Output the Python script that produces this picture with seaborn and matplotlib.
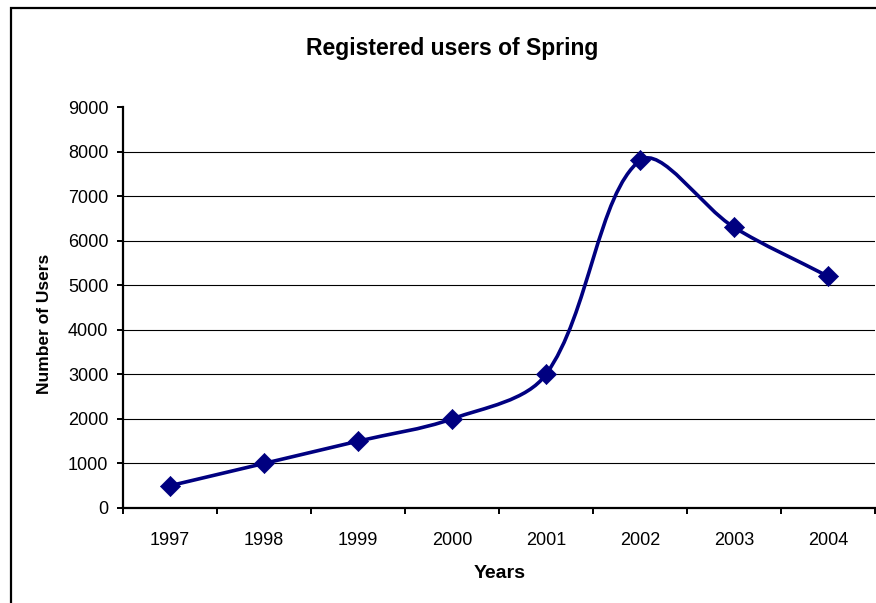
import numpy as np
import pandas as pd
import matplotlib
matplotlib.use("Agg")
import matplotlib.pyplot as plt
from matplotlib.path import Path
from matplotlib.patches import PathPatch, Rectangle
import seaborn as sns

years = ["1997", "1998", "1999", "2000", "2001", "2002", "2003", "2004"]
users = [500, 1000, 1500, 2000, 3000, 7800, 6300, 5200]
y_ticks = [0, 1000, 2000, 3000, 4000, 5000, 6000, 7000, 8000, 9000]

df = pd.DataFrame({"year": years, "users": users})
df["pos"] = np.arange(len(years))

sns.set_style("white")
plt.rcParams["font.family"] = ["Liberation Sans", "DejaVu Sans"]
plt.rcParams["text.color"] = "black"
plt.rcParams["axes.labelcolor"] = "black"
plt.rcParams["xtick.color"] = "black"
plt.rcParams["ytick.color"] = "black"

navy = "#000080"
fig = plt.figure(figsize=(8.76, 6.03), dpi=100)
ax = fig.add_axes([123 / 876, 95 / 603, 752 / 876, 401 / 603])

# outer chart frame (only left/top edges are inside the picture)
fig.patches.append(Rectangle((11 / 876, -0.05), 1.1, 0.05 + (603 - 8) / 603,
                             transform=fig.transFigure, fill=False,
                             edgecolor="black", linewidth=1.6))

ax.set_xlim(-0.5, len(years) - 0.5)
ax.set_ylim(0, 9000)

# Excel-like smoothed line: bezier segments, tangents weighted by
# segment lengths on screen
pts = np.column_stack([df["pos"].to_numpy(float), df["users"].to_numpy(float)])
scr = ax.transData.transform(pts)
n = len(pts)
k = 1 / 3
verts = [tuple(pts[0])]
codes = [Path.MOVETO]
for i in range(n - 1):
    i0, i3 = max(i - 1, 0), min(i + 2, n - 1)
    d01 = np.linalg.norm(scr[i] - scr[i0])
    d12 = np.linalg.norm(scr[i + 1] - scr[i])
    d23 = np.linalg.norm(scr[i3] - scr[i + 1])
    c1 = pts[i] + (pts[i + 1] - pts[i0]) * k * d12 / (d01 + d12)
    c2 = pts[i + 1] - (pts[i3] - pts[i]) * k * d12 / (d12 + d23)
    verts += [tuple(c1), tuple(c2), tuple(pts[i + 1])]
    codes += [Path.CURVE4] * 3
ax.add_patch(PathPatch(Path(verts, codes), fill=False, edgecolor=navy,
                       linewidth=2.6, zorder=3, capstyle="round",
                       joinstyle="round"))

sns.scatterplot(data=df, x="pos", y="users", marker="D", s=105, color=navy,
                edgecolor=navy, linewidth=0.5, zorder=4, ax=ax, legend=False)

ax.set_yticks(y_ticks)
ax.set_xticks(df["pos"])
ax.set_xticklabels(years)
ax.set_xticks(np.arange(-0.5, len(years)), minor=True)

for t in y_ticks[1:-1]:
    ax.axhline(t, color="black", linewidth=0.8, zorder=1)

for s in ["top", "right"]:
    ax.spines[s].set_visible(False)
for s in ["left", "bottom"]:
    ax.spines[s].set_color("black")
    ax.spines[s].set_linewidth(1.6)

ax.tick_params(axis="y", which="major", direction="out", length=4.5, width=1.4,
               labelsize=13, pad=6, left=True)
ax.tick_params(axis="x", which="major", length=0, labelsize=13, pad=17)
ax.tick_params(axis="x", which="minor", direction="out", length=4.5, width=1.4,
               bottom=True)

ax.set_xlabel("Years", fontsize=14, fontweight="bold")
ax.set_ylabel("Number of Users", fontsize=12.5, fontweight="bold")
ax.xaxis.set_label_coords(0.501, -0.142)
ax.yaxis.set_label_coords(-0.095, 0.459)

fig.text(452 / 876, 1 - 55 / 603, "Registered users of Spring", ha="center",
         va="baseline", fontsize=16.5, fontweight="bold")

fig.savefig("out.png", dpi=100)
